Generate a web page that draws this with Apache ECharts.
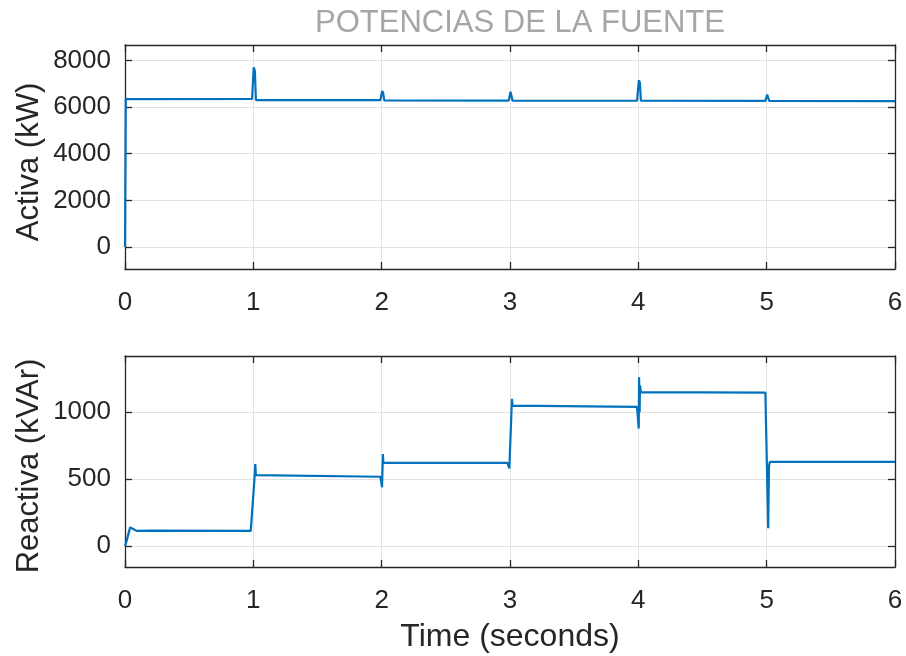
<!DOCTYPE html>
<html>
<head>
<meta charset="utf-8">
<script src="https://cdn.jsdelivr.net/npm/echarts@6/dist/echarts.min.js"></script>
<style>html,body{margin:0;padding:0;background:#fff}#c{width:906px;height:656px}</style>
</head>
<body>
<div id="c"></div>
<script>
// ---- data ----
const titleText = 'POTENCIAS DE LA FUENTE';
const xLabel = 'Time (seconds)';
const yLabelTop = 'Activa (kW)';
const yLabelBottom = 'Reactiva (kVAr)';
const xTicks = [0, 1, 2, 3, 4, 5, 6];
const yTicksTop = [0, 2000, 4000, 6000, 8000];
const yTicksBottom = [0, 500, 1000];

const activaT = [0, 0.006, 0.99, 1.0, 1.003, 1.012, 1.02, 1.99, 2.0, 2.004, 2.012, 2.02, 2.99, 3.0, 3.004, 3.012, 3.02, 3.99, 4.0, 4.004, 4.012, 4.02, 4.99, 5.0, 5.004, 5.012, 5.02, 6.0];
const activaP = [0, 6340, 6345, 6345, 7700, 7550, 6300, 6295, 6295, 6690, 6600, 6290, 6280, 6280, 6660, 6580, 6270, 6270, 6270, 7150, 7050, 6270, 6265, 6265, 6540, 6480, 6260, 6255];

const reactT = [0, 0.01, 0.04, 0.06, 0.09, 0.2, 0.98, 0.995, 1.01, 1.015, 1.02, 1.03, 1.99, 2.0, 2.003, 2.006, 2.01, 2.013, 2.03, 2.98, 2.995, 3.015, 3.02, 3.03, 3.99, 4.0, 4.003, 4.006, 4.01, 4.013, 4.02, 4.03, 4.99, 5.0, 5.012, 5.018, 5.025, 6.0];
const reactQ = [0, 30, 140, 130, 114, 116, 114, 108, 520, 612, 530, 523, 518, 518, 440, 560, 687, 620, 622, 622, 580, 1100, 1050, 1044, 1040, 1039, 878, 1262, 1000, 1200, 1150, 1146, 1146, 1146, 134, 600, 629, 629];

const topRange = [-940, 8660];
const botRange = [-156, 1420];
const xRange = [0, 6];

// ---- build ----
const pairs = (t, v) => t.map((x, i) => [x, v[i]]);
const axisCol = '#262626';
const gridCol = '#e2e2e2';
const lineCol = '#0072BD';
const font = 'Liberation Sans';
const tickFont = 26;

function tickStyle(vals) {
  const o = { show: true, inside: true, length: 7, lineStyle: { color: axisCol, width: 1.3 } };
  if (vals) o.customValues = vals;
  return o;
}
function xAx(gi, show, pos) {
  return {
    type: 'value', gridIndex: gi, min: xRange[0], max: xRange[1], interval: 1,
    position: pos,
    axisLine: { show: true, onZero: false, lineStyle: { color: axisCol, width: 1.3 } },
    axisTick: tickStyle(xTicks),
    axisLabel: { show: show, customValues: xTicks, color: '#262626', fontSize: tickFont, fontFamily: font, margin: 21, formatter: v => String(v) },
    splitLine: { show: show, customValues: xTicks, lineStyle: { color: gridCol, width: 1 } }
  };
}
function yAx(gi, range, vals, show, pos) {
  return {
    type: 'value', gridIndex: gi, min: range[0], max: range[1],
    position: pos,
    axisLine: { show: true, onZero: false, lineStyle: { color: axisCol, width: 1.3 } },
    axisTick: tickStyle(vals),
    axisLabel: { show: show, customValues: vals, color: '#262626', fontSize: tickFont, fontFamily: font, margin: 14, formatter: v => String(v) },
    splitLine: { show: show, customValues: vals, lineStyle: { color: gridCol, width: 1 } }
  };
}

const option = {
  animation: false,
  backgroundColor: '#fff',
  grid: [
    { left: 125, right: 11, top: 45, height: 224 },
    { left: 125, right: 11, top: 356, height: 211 }
  ],
  xAxis: [xAx(0, true, 'bottom'), xAx(0, false, 'top'), xAx(1, true, 'bottom'), xAx(1, false, 'top')],
  yAxis: [
    yAx(0, topRange, yTicksTop, true, 'left'),
    yAx(0, topRange, yTicksTop, false, 'right'),
    yAx(1, botRange, yTicksBottom, true, 'left'),
    yAx(1, botRange, yTicksBottom, false, 'right')
  ],
  series: [
    { type: 'line', xAxisIndex: 0, yAxisIndex: 0, data: pairs(activaT, activaP), showSymbol: false, lineStyle: { color: lineCol, width: 2.2 }, z: 5 },
    { type: 'line', xAxisIndex: 2, yAxisIndex: 2, data: pairs(reactT, reactQ), showSymbol: false, lineStyle: { color: lineCol, width: 2.2 }, z: 5 }
  ],
  graphic: [
    { type: 'text', x: 520, y: 23, style: { text: titleText, fill: '#a6a6a6', font: '31px "Liberation Sans"', align: 'center', verticalAlign: 'middle' } },
    { type: 'text', x: 510, y: 637, style: { text: xLabel, fill: '#262626', font: '32px "Liberation Sans"', align: 'center', verticalAlign: 'middle' } },
    { type: 'text', x: 29, y: 162, rotation: Math.PI / 2, style: { text: yLabelTop, fill: '#262626', font: '31px "Liberation Sans"', align: 'center', verticalAlign: 'middle' } },
    { type: 'text', x: 29, y: 466, rotation: Math.PI / 2, style: { text: yLabelBottom, fill: '#262626', font: '31px "Liberation Sans"', align: 'center', verticalAlign: 'middle' } }
  ]
};

const chart = echarts.init(document.getElementById('c'), null, { renderer: 'canvas' });
chart.setOption(option);
</script>
</body>
</html>
